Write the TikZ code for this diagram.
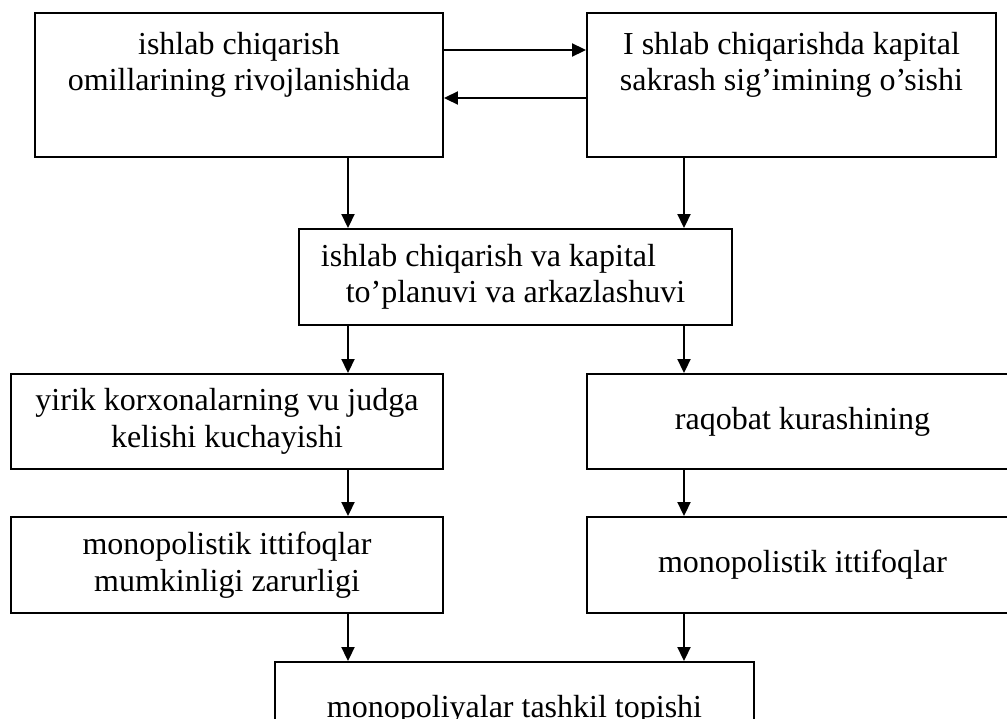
\documentclass[tikz,border=0pt]{standalone}
\usepackage{fontspec}
\setmainfont{Liberation Serif}
\usetikzlibrary{arrows.meta}

\begin{document}
\begin{tikzpicture}[x=1pt,y=-1pt,
    box/.style={draw,line width=1.9pt,inner sep=0pt,align=center,
      font=\fontsize{32}{36.5}\selectfont},
    arr/.style={line width=1.9pt,-{Triangle[length=14pt,width=13pt]}}]
    \useasboundingbox (0,0) rectangle (1007,718);
    \clip (0,0) rectangle (1007,718);
    \node[box,minimum width=408,minimum height=144] (box1) at (239,85)
      {ishlab chiqarish\\omillarining rivojlanishida\rule[-47pt]{0pt}{47pt}};
    \node[box,minimum width=409,minimum height=144] (box2) at (791.5,85)
      {I shlab chiqarishda kapital\\sakrash sig’imining o’sishi\rule[-47pt]{0pt}{47pt}};
    \node[box,minimum width=433,minimum height=96] (mid) at (515.5,277)
      {ishlab chiqarish va kapital\hspace*{54pt}\\to’planuvi va arkazlashuvi};
    \node[box,minimum width=432,minimum height=95] (yirik) at (227,421.5)
      {yirik korxonalarning vu judga\\kelishi kuchayishi};
    \node[box,minimum width=431,minimum height=95] (raqobat) at (802.5,421.5)
      {raqobat kurashining};
    \node[box,minimum width=432,minimum height=96] (monL) at (227,565)
      {monopolistik ittifoqlar\\mumkinligi zarurligi};
    \node[box,minimum width=431,minimum height=96] (monR) at (802.5,565)
      {monopolistik ittifoqlar};
    \node[box,minimum width=479,minimum height=96] (final) at (514.5,710)
      {monopoliyalar tashkil topishi};
    \coordinate (colL) at (348,0);
    \coordinate (colR) at (684,0);
    \draw[arr] ([yshift=35pt]box1.east) -- ([yshift=35pt]box2.west);
    \draw[arr] ([yshift=-13pt]box2.west) -- ([yshift=-13pt]box1.east);
    \foreach \a/\b/\c in {box1/mid/colL,box2/mid/colR,mid/yirik/colL,mid/raqobat/colR,
      yirik/monL/colL,raqobat/monR/colR,monL/final/colL,monR/final/colR}
      \draw[arr] (\a.south -| \c) -- (\b.north -| \c);
  \end{tikzpicture}
\end{document}
